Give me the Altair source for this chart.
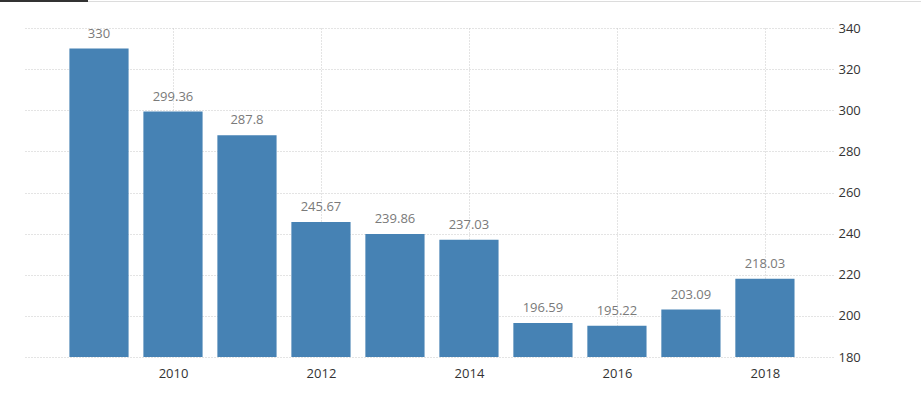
import altair as alt
import pandas as pd

years = [2009, 2010, 2011, 2012, 2013, 2014, 2015, 2016, 2017, 2018]
values = [330, 299.36, 287.8, 245.67, 239.86, 237.03, 196.59, 195.22, 203.09, 218.03]
labels = ["330", "299.36", "287.8", "245.67", "239.86", "237.03", "196.59", "195.22", "203.09", "218.03"]
x_ticks = [2010, 2012, 2014, 2016, 2018]
y_ticks = [180, 200, 220, 240, 260, 280, 300, 320, 340]

df = pd.DataFrame({"year": years, "value": values, "label": labels})
df["x0"] = df["year"] - 0.4
df["x1"] = df["year"] + 0.4

FONT = "Open Sans"

xscale = alt.Scale(domain=[2008, 2018.92], nice=False, zero=False)
yscale = alt.Scale(domain=[180, 340], nice=False, zero=False)

x_axis = alt.Axis(values=x_ticks, format="d", title=None, grid=True, gridDash=[1, 2],
                  gridColor="#c8c8c8", domain=False, ticks=False, labelPadding=10,
                  labelFont=FONT, labelFontSize=13, labelColor="#333333")
y_axis = alt.Axis(values=y_ticks, orient="right", title=None, grid=True, gridDash=[1, 2],
                  gridColor="#c8c8c8", domain=False, ticks=False, labelPadding=5,
                  labelFont=FONT, labelFontSize=13, labelColor="#333333")

base = alt.Chart(df)

bars = base.mark_bar(color="#4682b4").encode(
    x=alt.X("x0:Q", scale=xscale, axis=x_axis),
    x2="x1:Q",
    y=alt.Y("value:Q", scale=yscale, axis=y_axis),
    y2=alt.datum(180),
)

text = base.mark_text(dy=-8, baseline="bottom", font=FONT, fontSize=13, color="#7a7a7a").encode(
    x=alt.X("year:Q", scale=xscale),
    y=alt.Y("value:Q", scale=yscale),
    text="label:N",
)

# decorative top border and tab indicator
top_line = alt.Chart(pd.DataFrame({"k": [0]})).mark_rule(color="#dcdcdc", strokeWidth=1).encode(
    x=alt.value(-25), x2=alt.value(896), y=alt.value(-26.5)
)
tab = alt.Chart(pd.DataFrame({"k": [0]})).mark_rule(color="#333333", strokeWidth=2).encode(
    x=alt.value(-25), x2=alt.value(63), y=alt.value(-27)
)

chart = alt.layer(bars, text, top_line, tab).properties(
    width=808, height=329,
    autosize=alt.AutoSizeParams(type="none"),
    padding={"left": 25, "top": 28, "right": 88, "bottom": 37},
).configure_view(stroke=None)

chart.save("out.html", embed_options={"renderer": "svg", "actions": False})
